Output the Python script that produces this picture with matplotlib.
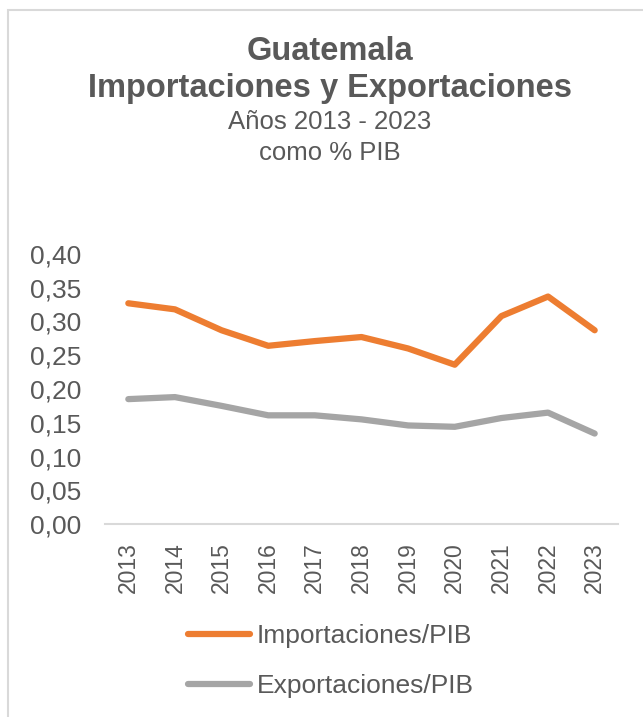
import matplotlib.pyplot as plt
from matplotlib.patches import Rectangle

plt.rcParams['font.family'] = ['Liberation Sans', 'DejaVu Sans']

# data
anios = ['2013', '2014', '2015', '2016', '2017', '2018', '2019', '2020', '2021', '2022', '2023']
importaciones = [0.327, 0.318, 0.287, 0.264, 0.271, 0.277, 0.260, 0.236, 0.308, 0.337, 0.287]
exportaciones = [0.185, 0.188, 0.175, 0.161, 0.161, 0.155, 0.146, 0.144, 0.157, 0.165, 0.134]
y_ticks = [0.00, 0.05, 0.10, 0.15, 0.20, 0.25, 0.30, 0.35, 0.40]

naranja = '#ED7D31'
gris = '#A5A5A5'
texto = '#595959'

fig = plt.figure(figsize=(6.43, 7.17), dpi=100)
ax = fig.add_axes([105/643, 1 - 524/717, (618 - 105)/643, (524 - 254)/717])

x = list(range(len(anios)))
ax.plot(x, importaciones, color=naranja, lw=4.5, solid_capstyle='round',
        solid_joinstyle='round', label='Importaciones/PIB')
ax.plot(x, exportaciones, color=gris, lw=4.5, solid_capstyle='round',
        solid_joinstyle='round', label='Exportaciones/PIB')

ax.set_xlim(-0.5, len(anios) - 0.5)
ax.set_ylim(0, 0.40)
ax.set_yticks(y_ticks)
ax.set_yticklabels([f"{v:.2f}".replace('.', ',') for v in y_ticks])
ax.set_xticks(x)
ax.set_xticklabels(anios, rotation=90)

for s in ['top', 'right', 'left']:
    ax.spines[s].set_visible(False)
ax.spines['bottom'].set_color('#D9D9D9')
ax.spines['bottom'].set_linewidth(1.5)
ax.tick_params(axis='y', length=0, pad=17, labelsize=19, labelcolor=texto)
ax.tick_params(axis='x', length=0, pad=13, labelsize=16.5, labelcolor=texto)

# titulos
fig.text(330/643, 1 - 51/717, 'Guatemala', ha='center', va='center',
         fontsize=23.5, fontweight='bold', color=texto)
fig.text(330/643, 1 - 89/717, 'Importaciones y Exportaciones', ha='center', va='center',
         fontsize=23.5, fontweight='bold', color=texto)
fig.text(330/643, 1 - 122/717, 'Años 2013 - 2023', ha='center', va='center',
         fontsize=18.5, color=texto)
fig.text(330/643, 1 - 153/717, 'como % PIB', ha='center', va='center',
         fontsize=18.5, color=texto)

leg = fig.legend(loc='center', bbox_to_anchor=(331/643, 1 - 661/717), frameon=False,
                 fontsize=19, handlelength=2.35, handletextpad=0.25, labelspacing=0.98,
                 labelcolor=texto)

# marco del grafico
fig.patches.append(Rectangle((8/643, -0.1), 1.2, 1.1 - 10/717, transform=fig.transFigure,
                             fill=False, edgecolor='#D9D9D9', lw=1.5))

fig.savefig('out.png', dpi=100)
